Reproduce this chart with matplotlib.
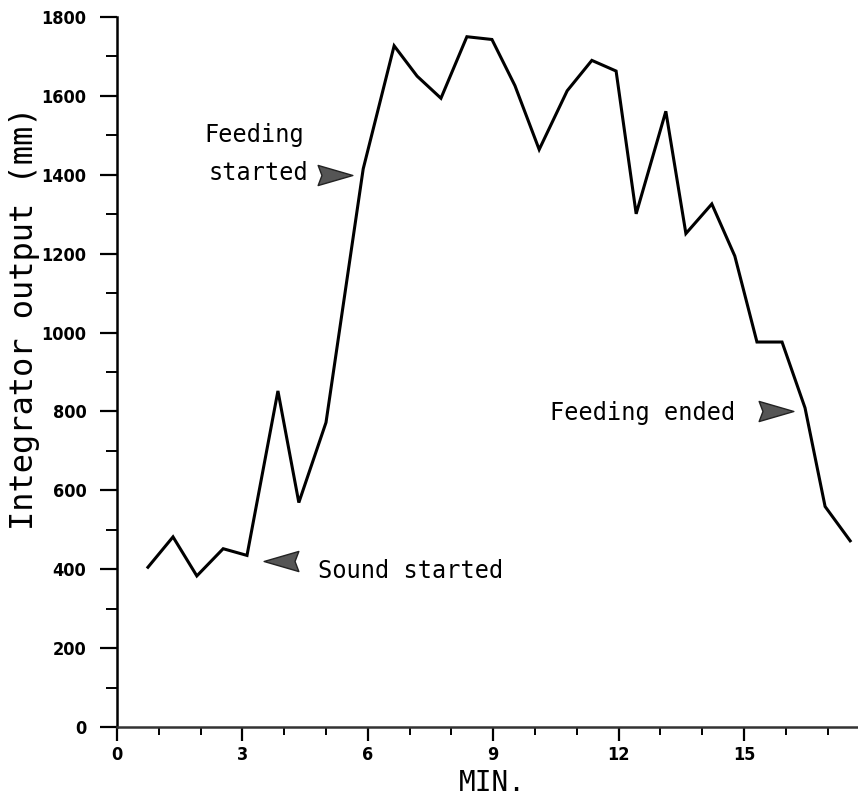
import matplotlib
matplotlib.use("Agg")
import matplotlib.pyplot as plt
from matplotlib.path import Path
import numpy as np

# ---- data ----
minutes = [0.74, 1.34, 1.91, 2.54, 3.11, 3.85, 4.35, 5.00, 5.89, 6.63,
           7.18, 7.75, 8.37, 8.97, 9.52, 10.10, 10.77, 11.36, 11.94, 12.42,
           13.13, 13.61, 14.23, 14.78, 15.31, 15.91, 16.46, 16.94, 17.54]
output_mm = [405, 482, 383, 452, 435, 852, 569, 772, 1415, 1727,
             1650, 1594, 1750, 1743, 1626, 1464, 1613, 1690, 1663, 1301,
             1561, 1251, 1326, 1194, 976, 976, 809, 559, 472]

xtick_vals = [0, 3, 6, 9, 12, 15]
xtick_labels = ["0", "3", "6", "9", "12", "15"]
ytick_vals = [0, 200, 400, 600, 800, 1000, 1200, 1400, 1600, 1800]
ytick_labels = ["0", "200", "400", "600", "800", "1000", "1200", "1400", "1600", "1800"]

ylabel_text = "Integrator output (mm)"
xlabel_text = "MIN."

# annotations: (text, x, y)
notes = [("Feeding", 2.10, 1500), ("started", 2.20, 1405),
         ("Sound started", 4.80, 395), ("Feeding ended", 10.35, 795)]
# arrows: (x, y, direction)
arrows = [(5.22, 1400, "right"), (3.92, 420, "left"), (15.77, 800, "right")]

W, H = 858, 798
fig = plt.figure(figsize=(W / 100, H / 100), dpi=100)
x0_px, y0_px, ytop_px = 117, 727, 17
ax = fig.add_axes([x0_px / W, (H - y0_px) / H, (W - x0_px) / W, (y0_px - ytop_px) / H])
ax.set_xlim(0, (W - x0_px) / 41.8)
ax.set_ylim(0, 1800)

ax.plot(minutes, output_mm, color="black", lw=2.2, solid_joinstyle="miter")

for s in ["top", "right"]:
    ax.spines[s].set_visible(False)
for s in ["left", "bottom"]:
    ax.spines[s].set_linewidth(1.8)
ax.spines["bottom"].set_color("#333333")

tick_font = dict(family=["DejaVu Sans"], weight="bold", size=13, stretch="condensed")
ax.set_xticks(xtick_vals)
ax.set_xticklabels(xtick_labels, **tick_font)
ax.set_yticks(ytick_vals)
ax.set_yticklabels(ytick_labels, **tick_font)
ax.set_xticks(np.arange(0, 18, 1), minor=True)
ax.set_yticks(np.arange(0, 1801, 100), minor=True)
ax.tick_params(axis="x", which="major", direction="out", length=10, width=1.6, pad=4)
ax.tick_params(axis="x", which="minor", direction="out", length=6, width=1.4)
ax.tick_params(axis="y", which="major", direction="out", length=12, width=1.6, pad=10)
ax.tick_params(axis="y", which="minor", direction="out", length=8, width=1.4)

fig.text(25 / W, 1 - 318 / H, ylabel_text, rotation=90, ha="center", va="center",
         family="DejaVu Sans Mono", size=23)
fig.text(492 / W, 1 - 783 / H, xlabel_text, ha="center", va="center",
         family="DejaVu Sans Mono", size=20)

for txt, x, y in notes:
    ax.text(x, y, txt, ha="left", va="center", family="DejaVu Sans Mono", size=17)

right_arrow = Path([(1, 0), (-1, 0.58), (-0.78, 0), (-1, -0.58), (1, 0)],
                   [Path.MOVETO, Path.LINETO, Path.LINETO, Path.LINETO, Path.CLOSEPOLY])
left_arrow = Path([(-1, 0), (1, 0.58), (0.78, 0), (1, -0.58), (-1, 0)],
                  [Path.MOVETO, Path.LINETO, Path.LINETO, Path.LINETO, Path.CLOSEPOLY])
for x, y, d in arrows:
    ax.plot([x], [y], marker=right_arrow if d == "right" else left_arrow,
            markersize=25, color="#555555", markeredgecolor="#222222",
            markeredgewidth=1.0, linestyle="none")

fig.savefig("out.png", dpi=100)
